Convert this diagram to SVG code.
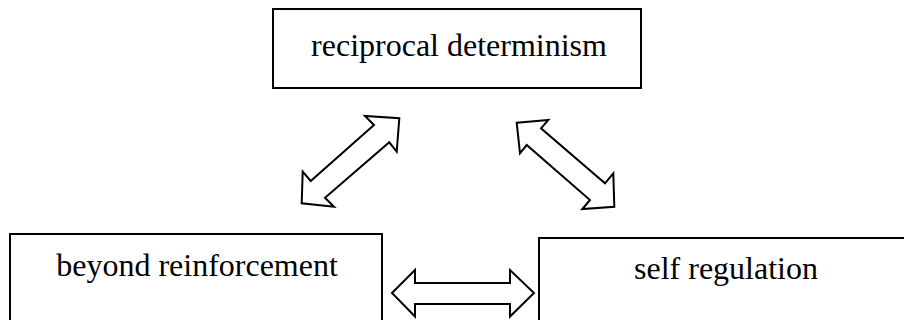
<svg xmlns="http://www.w3.org/2000/svg" width="904" height="320" viewBox="0 0 904 320">
<style>
.box{fill:#fff;stroke:#000;stroke-width:2}
.arr{fill:#fff;stroke:#000;stroke-width:2;stroke-linejoin:miter}
.t{font-family:"Liberation Serif","Times New Roman",serif;font-size:32px;fill:#000;text-anchor:middle}
</style>
<rect width="904" height="320" fill="#fff"/>
<g id="node-reciprocal">
<rect class="box" x="273" y="9" width="368" height="79"/>
<text class="t" x="459" y="56">reciprocal determinism</text>
</g>
<g id="node-beyond">
<rect class="box" x="10" y="234" width="372" height="100"/>
<text class="t" x="197" y="276">beyond reinforcement</text>
</g>
<g id="node-self">
<rect class="box" x="539" y="238" width="374" height="100"/>
<text class="t" x="726" y="279">self regulation</text>
</g>
<g id="connectors">
<polygon class="arr" points="399.3,118.3 396.7,151.7 389.3,142.3 325,197.7 334,206.7 301.7,203.3 302.7,171.7 310.7,181 374,125 365,116"/>
<polygon class="arr" points="516.7,122.7 548.3,120 541,128.3 605,183.3 613.3,173.3 614.3,206.7 582.3,209 590,200 526.7,145 520,153.3"/>
<polygon class="arr" points="392,293 415,270 415,283 510,283 510,270 534,293 510,316.5 510,304 415,304 415,316.5"/>
</g>
</svg>
